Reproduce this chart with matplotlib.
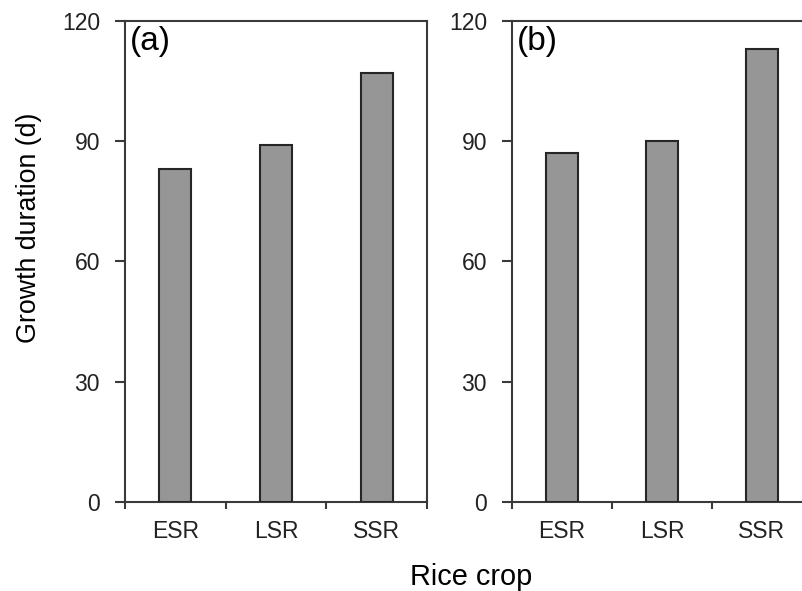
import matplotlib
matplotlib.use('Agg')
import matplotlib.pyplot as plt
import numpy as np

# growth duration of the three rice crops, two panels
crops = ['ESR', 'LSR', 'SSR']
days_a = [83, 89, 107]
days_b = [87, 90, 113]
yticks = [0, 30, 60, 90, 120]

plt.rcParams['font.family'] = ['Liberation Sans', 'DejaVu Sans']

fig = plt.figure(figsize=(8.02, 5.91), dpi=100)
ax_a = fig.add_axes([0.1559, 0.1506, 0.3766, 0.8139])
ax_b = fig.add_axes([0.6384, 0.1506, 0.3740, 0.8139])

spine_col = '#3a3a3a'
for ax, vals, tag in [(ax_a, days_a, '(a)'), (ax_b, days_b, '(b)')]:
    x = np.arange(len(crops))
    ax.bar(x, vals, width=0.32, color='#969696', edgecolor='#262626', linewidth=1.5, zorder=3)
    ax.set_xlim(-0.5, len(crops) - 0.5)
    ax.set_ylim(0, 120)
    ax.set_yticks(yticks)
    ax.set_xticks(x)
    ax.set_xticklabels(crops)
    ax.set_xticks(np.arange(-0.5, len(crops), 1.0), minor=True)
    ax.tick_params(axis='x', which='major', length=0, pad=13, labelsize=16.5, colors='#222222')
    ax.tick_params(axis='x', which='minor', length=5, width=1.5, direction='out', color=spine_col)
    ax.tick_params(axis='y', length=7, width=1.5, direction='out', pad=11, labelsize=16.5,
                   color=spine_col, labelcolor='#222222')
    for s in ax.spines.values():
        s.set_color(spine_col)
        s.set_linewidth(1.5)
    ax.text(0.017, 0.99, tag, transform=ax.transAxes, ha='left', va='top', fontsize=24)

fig.text(29 / 802, 0.614, 'Growth duration (d)', rotation=90, ha='center', va='center', fontsize=19.3)
fig.text(471 / 802, 0.024, 'Rice crop', ha='center', va='center', fontsize=20.8)

fig.savefig('out.png', dpi=100)
